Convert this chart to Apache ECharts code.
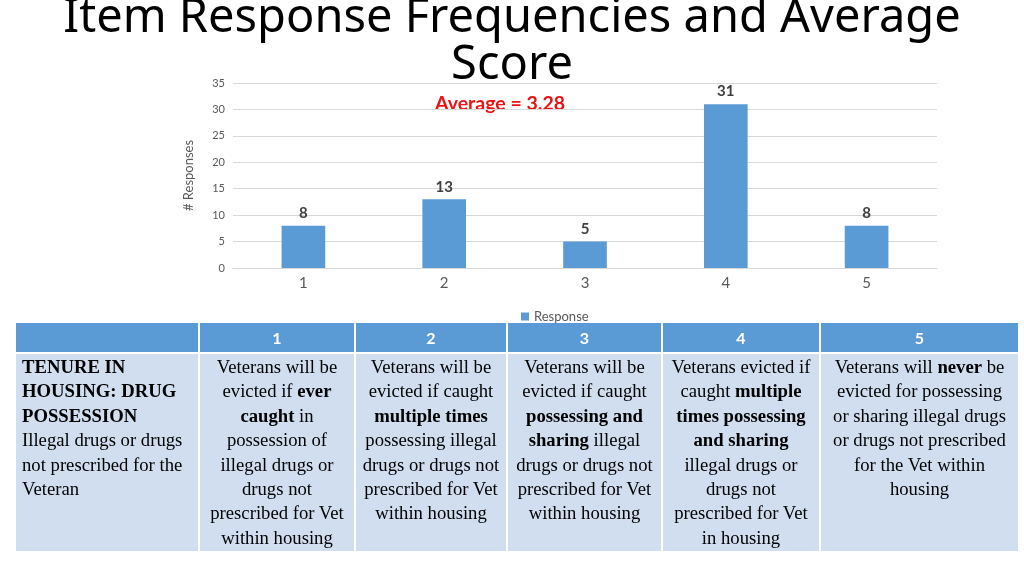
<!DOCTYPE html>
<html>
<head>
<meta charset="utf-8">
<script src="https://cdn.jsdelivr.net/npm/echarts@6/dist/echarts.min.js"></script>
<style>
  html, body { margin: 0; padding: 0; background: #fff; }
  #wrap { position: relative; width: 1024px; height: 575px; overflow: hidden; }
  #chart { position: absolute; left: 0; top: 0; width: 1024px; height: 575px; }
  #tbl {
    position: absolute; left: 16px; top: 323px;
    border-collapse: collapse; table-layout: fixed;
  }
  #tbl th {
    background: #5b9bd5; color: #fff; font-family: Lato, sans-serif;
    font-size: 16px; font-weight: bold; height: 29px; padding: 0;
    border: 2px solid #fff; border-top: none;
  }
  #tbl td {
    background: #d0deef; color: #000; font-family: "Liberation Serif", serif;
    font-size: 18.7px; line-height: 24.4px; vertical-align: top;
    text-align: center; padding: 1px 6px 0 6px; height: 196px;
    border: 2px solid #fff; border-bottom: none;
  }
  #tbl th:first-child, #tbl td:first-child { border-left: none; }
  #tbl th:last-child, #tbl td:last-child { border-right: none; }
  #tbl td:first-child { text-align: left; padding-left: 6px; padding-right: 2px; }
</style>
</head>
<body>
<div id="wrap">
  <div id="chart"></div>
  <table id="tbl"></table>
</div>
<script>
// 图表数据
var categories = ['1', '2', '3', '4', '5'];
var counts = [8, 13, 5, 31, 8];
var averageScore = 3.28;

// 表格内容
var tableHead = ['', '1', '2', '3', '4', '5'];
var tableRow = [
  '<b>TENURE IN HOUSING: DRUG POSSESSION</b><br>Illegal drugs or drugs not prescribed for the Veteran',
  'Veterans will be evicted if <b>ever caught</b> in possession of illegal drugs or drugs not prescribed for Vet within housing',
  'Veterans will be evicted if caught <b>multiple times</b> possessing illegal drugs or drugs not prescribed for Vet within housing',
  'Veterans will be evicted if caught <b>possessing and sharing</b> illegal drugs or drugs not prescribed for Vet within housing',
  'Veterans evicted if caught <b>multiple times possessing and sharing</b> illegal drugs or drugs not prescribed for Vet in housing',
  'Veterans will <b>never</b> be evicted for possessing or sharing illegal drugs or drugs not prescribed for the Vet within housing'
];
var colWidths = [183, 156, 152, 155, 158, 198];

// 表格
var html = '<colgroup>';
colWidths.forEach(function (w) { html += '<col style="width:' + w + 'px">'; });
html += '</colgroup><tr>';
tableHead.forEach(function (h) { html += '<th>' + h + '</th>'; });
html += '</tr><tr>';
tableRow.forEach(function (c) { html += '<td>' + c + '</td>'; });
html += '</tr>';
document.getElementById('tbl').innerHTML = html;

// 柱状图
var myChart = echarts.init(document.getElementById('chart'));
var option = {
  animation: false,
  title: {
    text: 'Item Response Frequencies and Average\nScore',
    left: 'center',
    top: -10,
    textStyle: {
      fontFamily: 'Noto Sans',
      fontWeight: 'normal',
      fontSize: 47,
      lineHeight: 47,
      color: '#000'
    }
  },
  graphic: [{
    type: 'text',
    left: 435,
    top: 94,
    style: {
      text: 'Average = ' + averageScore.toFixed(2),
      fill: '#ee1111',
      font: 'bold 19.5px Lato'
    }
  }],
  legend: {
    data: ['Response'],
    left: 516,
    top: 305,
    icon: 'rect',
    itemWidth: 8,
    itemHeight: 8,
    itemGap: 4,
    textStyle: { fontFamily: 'Lato', fontSize: 13, color: '#595959' }
  },
  grid: { left: 233, right: 87, top: 83, bottom: 307, containLabel: false },
  xAxis: {
    type: 'category',
    data: categories,
    axisLine: { lineStyle: { color: '#d9d9d9' } },
    axisTick: { show: false },
    axisLabel: { fontFamily: 'Lato', fontSize: 15, color: '#595959', margin: 8 }
  },
  yAxis: {
    type: 'value',
    min: 0,
    max: 35,
    interval: 5,
    name: '# Responses',
    nameLocation: 'middle',
    nameGap: 38,
    nameTextStyle: { fontFamily: 'Lato', fontSize: 13, color: '#595959' },
    axisLine: { show: false },
    axisTick: { show: false },
    axisLabel: { fontFamily: 'Lato', fontSize: 11, color: '#595959', margin: 8 },
    splitLine: { lineStyle: { color: '#d9d9d9' } }
  },
  series: [{
    name: 'Response',
    type: 'bar',
    data: counts,
    barWidth: '31%',
    itemStyle: { color: '#5b9bd5' },
    label: {
      show: true,
      position: 'top',
      distance: 5,
      fontFamily: 'Lato',
      fontSize: 15,
      fontWeight: 'bold',
      color: '#404040'
    }
  }]
};
myChart.setOption(option);
</script>
</body>
</html>
